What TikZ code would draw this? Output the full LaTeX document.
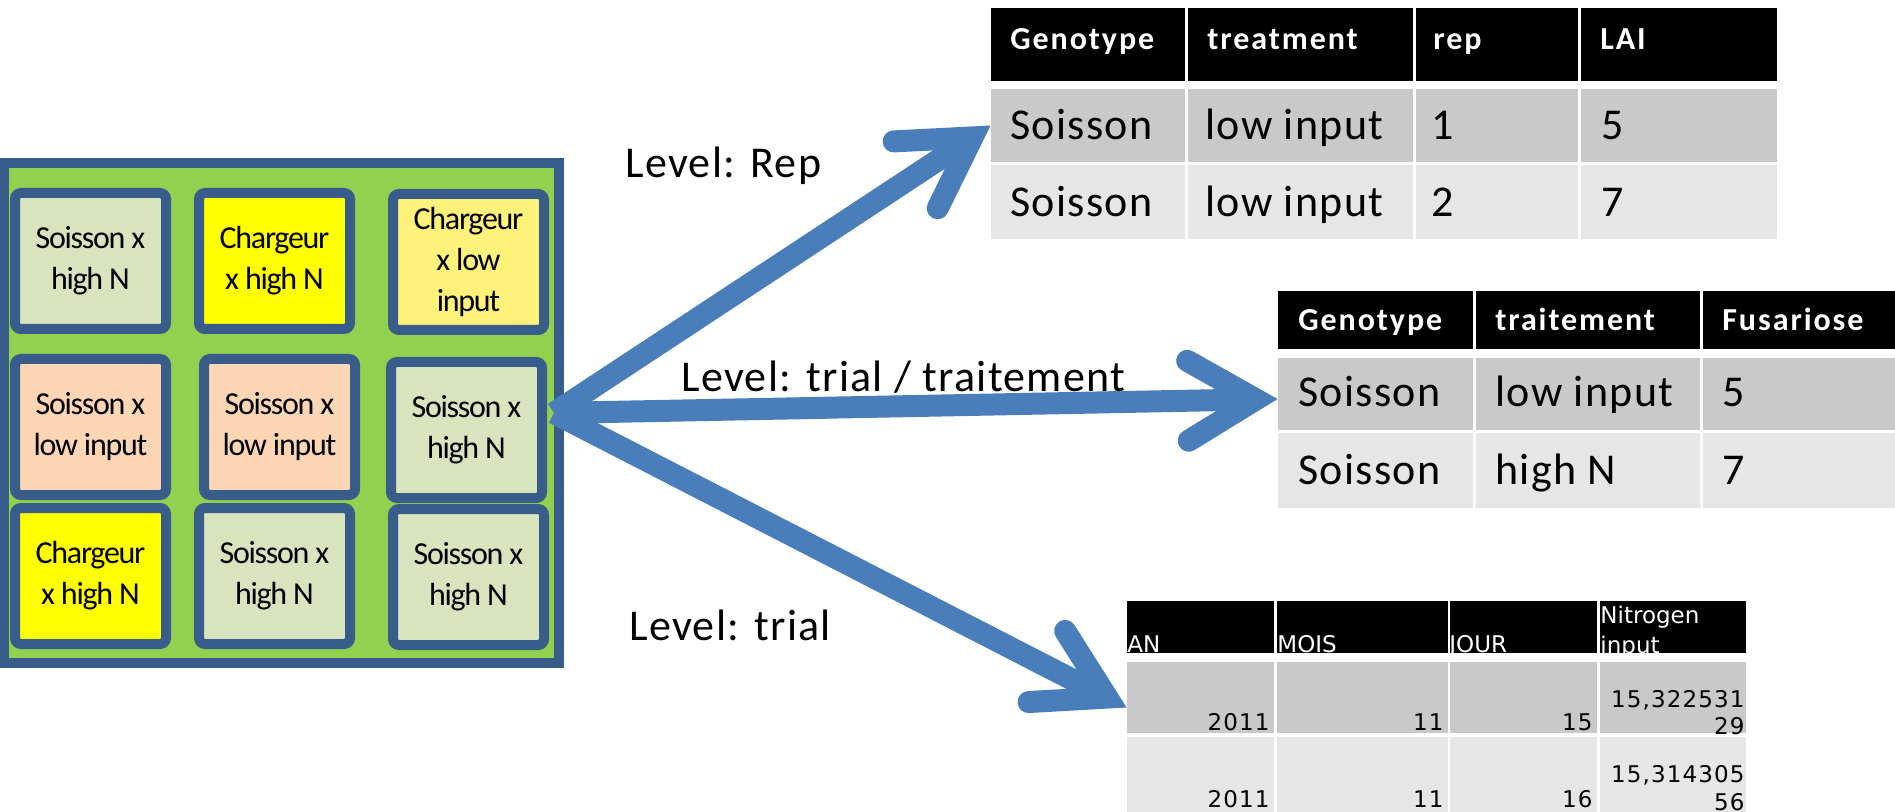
\documentclass[tikz,border=0pt]{standalone}
\usepackage{fontspec}
\setmainfont{Carlito}
\newfontfamily\plotfont[LetterSpace=-4]{Carlito}
\newfontfamily\lvlfont[LetterSpace=3]{Carlito}
\newfontfamily\headfont[LetterSpace=6]{Carlito}
\newfontfamily\numfont[LetterSpace=5]{DejaVu Sans}
\newfontfamily\colfont{DejaVu Sans}
\usetikzlibrary{arrows.meta}

\definecolor{fieldgreen}{HTML}{92D050}
\definecolor{plotblue}{HTML}{385D8A}
\definecolor{arrowblue}{HTML}{4A7EBB}
\definecolor{hiN}{HTML}{D7E4BD}
\definecolor{chyel}{HTML}{FFFF00}
\definecolor{chlow}{HTML}{FFF27A}
\definecolor{lowin}{HTML}{FCD5B5}
\definecolor{rowdark}{HTML}{C9C9C9}
\definecolor{rowlight}{HTML}{E6E6E6}

\tikzset{
  fieldbox/.style={draw=plotblue, fill=fieldgreen, line width=5pt, minimum width=277.5pt, minimum height=250pt, inner sep=0pt},
  plotcell/.style={draw=plotblue, fill=#1, line width=5pt, rounded corners=3pt, minimum width=75.5pt, minimum height=68pt, inner sep=0pt, align=center, font=\plotfont\fontsize{16pt}{20.5pt}\selectfont},
  flow/.style={draw=arrowblue, line width=11pt, -{Straight Barb[length=34pt, width=40pt, line cap=round, line join=miter]}},
  lvl/.style={anchor=base west, inner sep=0pt, font=\lvlfont\fontsize{22pt}{26pt}\selectfont},
  hcell/.style={fill=black, inner sep=0pt},
  darkcell/.style={fill=rowdark, inner sep=0pt},
  lightcell/.style={fill=rowlight, inner sep=0pt},
  htext/.style={anchor=base west, inner sep=0pt, text=white, font=\headfont\fontsize{16pt}{19pt}\selectfont\bfseries},
  btext/.style={anchor=base west, inner sep=0pt, font=\lvlfont\fontsize{22pt}{26pt}\selectfont},
  ctext/.style={anchor=base west, inner sep=0pt, text=white, font=\colfont\fontsize{11.5pt}{15pt}\selectfont},
  ntext/.style={anchor=base east, inner sep=0pt, font=\numfont\fontsize{11.5pt}{14pt}\selectfont},
}

\begin{document}
\begin{tikzpicture}[x=0.5pt, y=-0.5pt]
  \useasboundingbox (0,0) rectangle (1895,812);
  \clip (0,0) rectangle (1895,812);

  % the trial and its plots
  \node[fieldbox] (field) at (281.5,413) {};
  \node[plotcell=hiN] (p11) at (90.5,261) {Soisson x\\high N};
  \node[plotcell=chyel] (p12) at (274.5,261) {Chargeur\\x high N};
  \node[plotcell=chlow] (p13) at (468.5,262) {Chargeur\\x low\\input};
  \node[plotcell=lowin] (p21) at (90.5,427) {Soisson x\\low input};
  \node[plotcell=lowin] (p22) at (279.5,427) {Soisson x\\low input};
  \node[plotcell=hiN] (p23) at (466.5,430) {Soisson x\\high N};
  \node[plotcell=chyel] (p31) at (90.5,576) {Chargeur\\x high N};
  \node[plotcell=hiN] (p32) at (274.5,576) {Soisson x\\high N};
  \node[plotcell=hiN] (p33) at (468.5,577) {Soisson x\\high N};

  % level rep
  \foreach \c/\x/\w in {a/1088/97pt, b/1300.5/112.5pt, c/1497/81pt, d/1679/98pt}{
    \node[hcell, minimum width=\w, minimum height=36.5pt] (repH\c) at (\x,44.5) {};
    \node[darkcell, minimum width=\w, minimum height=36.5pt] (repA\c) at (\x,125.5) {};
    \node[lightcell, minimum width=\w, minimum height=37pt] (repB\c) at (\x,202) {};
  }
  \node[htext] (repgeno) at (1010,50) {Genotype};
  \node[htext] (reptreat) at (1207,50) {treatment};
  \node[htext] (reprep) at (1433,50) {rep};
  \node[htext] (replai) at (1600,50) {LAI};
  \node[btext] (repsoi1) at (1010,140) {Soisson};
  \node[btext] (replow1) at (1205,140) {low input};
  \node[btext] (rep1) at (1431,140) {1};
  \node[btext] (rep5) at (1601,140) {5};
  \node[btext] (repsoi2) at (1010,217) {Soisson};
  \node[btext] (replow2) at (1205,217) {low input};
  \node[btext] (rep2) at (1431,217) {2};
  \node[btext] (rep7) at (1601,217) {7};

  % level trial / traitement
  \foreach \c/\x/\w in {a/1375.5/97.5pt, b/1588/112pt, c/1831.5/128.5pt}{
    \node[hcell, minimum width=\w, minimum height=29pt] (trtH\c) at (\x,320) {};
    \node[darkcell, minimum width=\w, minimum height=36pt] (trtA\c) at (\x,394) {};
    \node[lightcell, minimum width=\w, minimum height=37.5pt] (trtB\c) at (\x,470.5) {};
  }
  \node[htext] (trtgeno) at (1298,331) {Genotype};
  \node[htext] (trttrait) at (1495,331) {traitement};
  \node[htext] (trtfus) at (1722,331) {Fusariose};
  \node[btext] (trtsoi1) at (1298,407) {Soisson};
  \node[btext] (trtlow) at (1495,407) {low input};
  \node[btext] (trt5) at (1722,407) {5};
  \node[btext] (trtsoi2) at (1298,484) {Soisson};
  \node[btext] (trthigh) at (1495,484) {high N};
  \node[btext] (trt7) at (1722,484) {7};

  % level trial
  \foreach \c/\x/\w in {a/1200.5/73.5pt, b/1362.5/85.5pt, c/1523.5/73.5pt, d/1673/73pt}{
    \node[hcell, minimum width=\w, minimum height=26pt] (trialH\c) at (\x,627) {};
    \node[darkcell, minimum width=\w, minimum height=35.5pt] (trialA\c) at (\x,697.5) {};
    \node[lightcell, minimum width=\w, minimum height=46.5pt] (trialB\c) at (\x,783.5) {};
  }
  \node[ctext] (trialan) at (1127,652) {AN};
  \node[ctext] (trialmois) at (1277,652) {MOIS};
  \node[ctext] (trialjour) at (1449,652) {JOUR};
  \node[ctext] (trialnit) at (1600,623) {Nitrogen};
  \node[ctext] (trialinp) at (1600,653) {input};
  \node[ntext] (trialy1) at (1270,730) {2011};
  \node[ntext] (trialm1) at (1444,730) {11};
  \node[ntext] (triald1) at (1593,730) {15};
  \node[ntext] (trialn1) at (1745,707) {15,322531};
  \node[ntext] (trialn1b) at (1745,734) {29};
  \node[ntext] (trialy2) at (1270,807) {2011};
  \node[ntext] (trialm2) at (1444,807) {11};
  \node[ntext] (triald2) at (1593,807) {16};
  \node[ntext] (trialn2) at (1745,782) {15,314305};
  \node[ntext] (trialn2b) at (1745,810) {56};

  % labels
  \node[lvl] (lrep) at (625,178) {Level: Rep};
  \node[lvl] (ltrt) at (681,392) {Level: trial / traitement};
  \node[lvl] (ltrial) at (629,640) {Level: trial};

  % arrows
  \coordinate (src) at ([xshift=-5pt]field.east);
  \draw[flow] (src) -- (repAa.west);
  \draw[flow] (src) -- ([yshift=-2.5pt]trtAa.west);
  \draw[flow] (src) -- ([yshift=-5pt]trialAa.west);
\end{tikzpicture}
\end{document}
